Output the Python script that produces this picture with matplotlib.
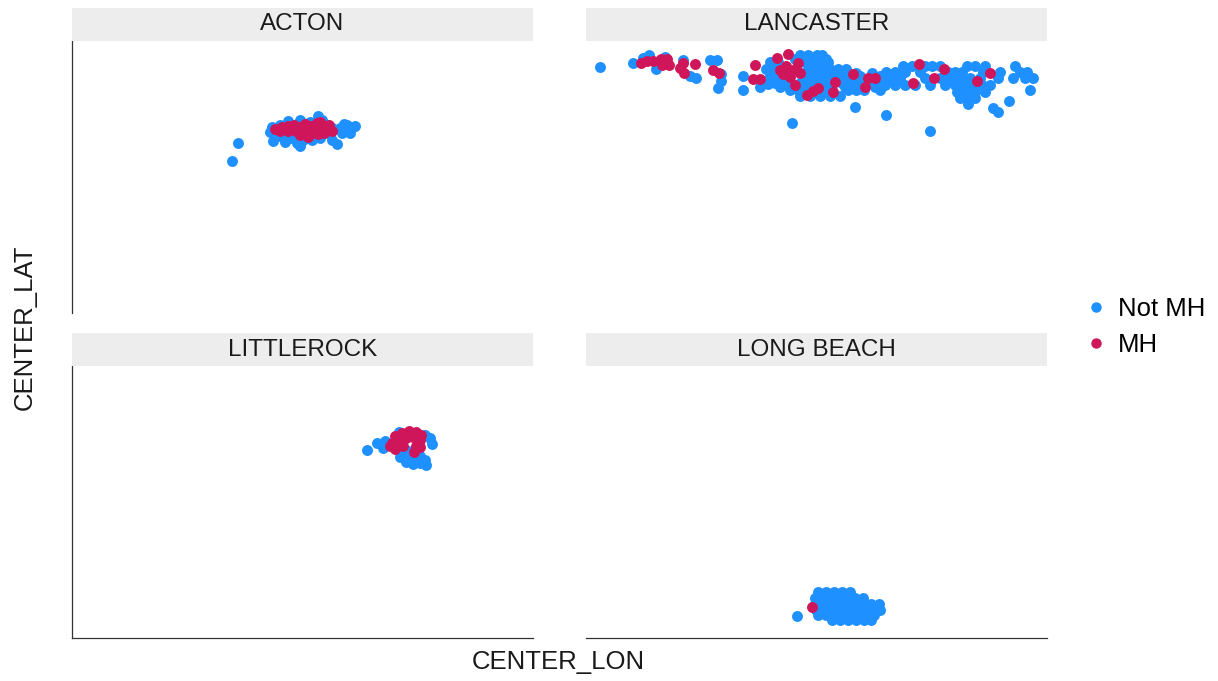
import matplotlib
matplotlib.use("Agg")
import matplotlib.pyplot as plt
from matplotlib.lines import Line2D
from matplotlib.patches import Rectangle

plt.rcParams["font.family"] = ["Liberation Sans", "DejaVu Sans"]

# ---- data: parcel centroids by town, split by mobile-home status ----
towns = ["ACTON", "LANCASTER", "LITTLEROCK", "LONG BEACH"]
groups = ["Not MH", "MH"]
colors = {"Not MH": "#1E90FF", "MH": "#D0165A"}

acton_not_lon = [-118.340, -118.334, -118.299, -118.287, -118.282, -118.275, -118.272, -118.269,
                 -118.277, -118.292, -118.296, -118.284, -118.272, -118.254, -118.262, -118.247,
                 -118.240, -118.232, -118.225, -118.219, -118.222, -118.230, -118.235, -118.240,
                 -118.252, -118.244, -118.260, -118.266, -118.285, -118.292, -118.276, -118.254,
                 -118.226, -118.217, -118.228, -118.300, -118.302, -118.288, -118.250, -118.257]
acton_not_lat = [34.680, 34.698, 34.700, 34.699, 34.703, 34.698, 34.695, 34.701,
                 34.713, 34.716, 34.711, 34.720, 34.721, 34.725, 34.719, 34.717,
                 34.713, 34.713, 34.716, 34.714, 34.708, 34.708, 34.697, 34.701,
                 34.703, 34.708, 34.701, 34.706, 34.708, 34.705, 34.708, 34.711,
                 34.711, 34.715, 34.717, 34.714, 34.709, 34.713, 34.721, 34.713]
acton_mh_lon = [-118.297, -118.290, -118.284, -118.278, -118.272, -118.267, -118.261, -118.255,
                -118.250, -118.245, -118.240, -118.267, -118.276, -118.284, -118.292, -118.260,
                -118.254, -118.272, -118.264, -118.248, -118.258, -118.280, -118.252, -118.243]
acton_mh_lat = [34.712, 34.714, 34.715, 34.716, 34.714, 34.717, 34.715, 34.718,
                34.714, 34.712, 34.710, 34.711, 34.710, 34.710, 34.710, 34.708,
                34.707, 34.706, 34.704, 34.708, 34.712, 34.713, 34.719, 34.716]

lancaster_not_lon = [
    -118.486, -118.453, -118.437, -118.443, -118.430, -118.421, -118.403, -118.396, -118.390,
    -118.376, -118.369, -118.365, -118.365, -118.368, -118.343, -118.343, -118.326, -118.318,
    -118.316,
    -118.286, -118.278, -118.269, -118.264,
    -118.291, -118.274, -118.260,
    -118.316, -118.308, -118.281, -118.274, -118.266, -118.258,
    -118.320, -118.313, -118.278, -118.271, -118.263, -118.256, -118.248, -118.240,
    -118.311, -118.296, -118.286, -118.246, -118.230, -118.214,
    -118.316, -118.308, -118.282, -118.274, -118.266, -118.258, -118.250, -118.242, -118.234,
    -118.226, -118.206, -118.196,
    -118.311, -118.303, -118.296, -118.286, -118.278, -118.270, -118.260, -118.244, -118.236,
    -118.228, -118.220, -118.210, -118.200, -118.190,
    -118.306, -118.291, -118.274, -118.256, -118.241, -118.226, -118.211,
    -118.296, -118.288, -118.280, -118.272, -118.262, -118.254, -118.238, -118.230, -118.222,
    -118.206,
    -118.286, -118.276, -118.266, -118.256, -118.246,
    -118.183, -118.174, -118.161, -118.154, -118.146, -118.119, -118.111, -118.101, -118.071,
    -118.200, -118.191, -118.181, -118.166, -118.138, -118.131, -118.124, -118.103, -118.086,
    -118.066, -118.059,
    -118.204, -118.196, -118.186, -118.161, -118.146, -118.136, -118.126, -118.116, -118.106,
    -118.088, -118.073, -118.061, -118.053,
    -118.201, -118.191, -118.181, -118.171, -118.156, -118.141, -118.131, -118.123, -118.114,
    -118.104, -118.096,
    -118.129, -118.121, -118.111, -118.101,
    -118.126, -118.118, -118.111,
    -118.118,
    -118.093, -118.088, -118.077, -118.056, -118.200, -118.156, -118.294, -118.231]
lancaster_not_lat = [
    34.774, 34.778, 34.786, 34.783, 34.772, 34.784, 34.781, 34.765, 34.763,
    34.781, 34.781, 34.767, 34.760, 34.753, 34.765, 34.751, 34.754, 34.757,
    34.771,
    34.786, 34.786, 34.786, 34.786,
    34.782, 34.782, 34.782,
    34.779, 34.779, 34.779, 34.779, 34.779, 34.779,
    34.772, 34.772, 34.772, 34.772, 34.772, 34.772, 34.772, 34.772,
    34.768, 34.768, 34.768, 34.768, 34.768, 34.768,
    34.765, 34.765, 34.765, 34.765, 34.765, 34.765, 34.765, 34.765, 34.765,
    34.765, 34.765, 34.765,
    34.758, 34.758, 34.758, 34.758, 34.758, 34.758, 34.758, 34.758, 34.758,
    34.758, 34.758, 34.758, 34.758, 34.758,
    34.754, 34.754, 34.754, 34.754, 34.754, 34.754, 34.754,
    34.751, 34.751, 34.751, 34.751, 34.751, 34.751, 34.751, 34.751, 34.751,
    34.751,
    34.745, 34.745, 34.745, 34.745, 34.745,
    34.775, 34.775, 34.775, 34.775, 34.775, 34.775, 34.775, 34.775, 34.775,
    34.769, 34.769, 34.769, 34.769, 34.769, 34.769, 34.769, 34.769, 34.769,
    34.769, 34.769,
    34.763, 34.763, 34.763, 34.763, 34.763, 34.763, 34.763, 34.763, 34.763,
    34.763, 34.763, 34.763, 34.763,
    34.756, 34.756, 34.756, 34.756, 34.756, 34.756, 34.756, 34.756, 34.756,
    34.756, 34.756,
    34.749, 34.749, 34.749, 34.749,
    34.743, 34.743, 34.743,
    34.737,
    34.733, 34.729, 34.740, 34.751, 34.726, 34.710, 34.718, 34.734]
lancaster_mh_lon = [-118.445, -118.439, -118.433, -118.425, -118.419, -118.424, -118.417, -118.406,
                    -118.402, -118.403, -118.391, -118.373, -118.367, -118.331, -118.333, -118.326,
                    -118.309, -118.298, -118.306, -118.300, -118.293, -118.288, -118.286, -118.296,
                    -118.303, -118.291, -118.279, -118.273, -118.268, -118.251, -118.253, -118.233,
                    -118.221, -118.218, -118.211, -118.167, -118.142, -118.152, -118.173, -118.109,
                    -118.096]
lancaster_mh_lat = [34.778, 34.780, 34.780, 34.782, 34.782, 34.776, 34.776, 34.773,
                    34.768, 34.778, 34.777, 34.771, 34.768, 34.776, 34.762, 34.762,
                    34.783, 34.787, 34.771, 34.775, 34.771, 34.778, 34.768, 34.764,
                    34.767, 34.756, 34.746, 34.750, 34.753, 34.759, 34.749, 34.767,
                    34.754, 34.763, 34.763, 34.777, 34.772, 34.763, 34.758, 34.760,
                    34.768]

littlerock_not_lon = [-118.205, -118.195, -118.187, -118.189, -118.173, -118.142, -118.140, -118.147,
                      -118.172, -118.166, -118.159, -118.152, -118.147, -118.168, -118.160, -118.152,
                      -118.146, -118.164, -118.172]
littlerock_not_lat = [34.716, 34.723, 34.725, 34.718, 34.734, 34.728, 34.722, 34.731,
                      34.709, 34.704, 34.702, 34.703, 34.706, 34.711, 34.708, 34.710,
                      34.701, 34.715, 34.714]
littlerock_mh_lon = [-118.177, -118.170, -118.163, -118.156, -118.151, -118.180, -118.173, -118.166,
                     -118.159, -118.152, -118.177, -118.169, -118.156, -118.152, -118.158, -118.182]
littlerock_mh_lat = [34.730, 34.733, 34.735, 34.734, 34.731, 34.723, 34.726, 34.728,
                     34.729, 34.726, 34.717, 34.720, 34.720, 34.719, 34.714, 34.720]

longbeach_not_lon = [-118.268, -118.260, -118.252, -118.244, -118.236,
                     -118.271, -118.263, -118.255, -118.247, -118.239, -118.231, -118.223,
                     -118.271, -118.263, -118.255, -118.247, -118.239, -118.231, -118.223,
                     -118.215, -118.207,
                     -118.270, -118.262, -118.254, -118.246, -118.238, -118.230, -118.222,
                     -118.214, -118.206,
                     -118.268, -118.260, -118.252, -118.244, -118.236, -118.228, -118.220,
                     -118.212,
                     -118.254, -118.246, -118.238, -118.230, -118.222, -118.215,
                     -118.289]
longbeach_not_lat = [34.574, 34.574, 34.574, 34.574, 34.574,
                     34.568, 34.568, 34.568, 34.568, 34.568, 34.568, 34.568,
                     34.562, 34.562, 34.562, 34.562, 34.562, 34.562, 34.562,
                     34.562, 34.562,
                     34.556, 34.556, 34.556, 34.556, 34.556, 34.556, 34.556,
                     34.556, 34.556,
                     34.551, 34.551, 34.551, 34.551, 34.551, 34.551, 34.551,
                     34.551,
                     34.546, 34.546, 34.546, 34.546, 34.546, 34.546,
                     34.550]
longbeach_mh_lon = [-118.274]
longbeach_mh_lat = [34.559]

points = {
    "ACTON": {"Not MH": (acton_not_lon, acton_not_lat), "MH": (acton_mh_lon, acton_mh_lat)},
    "LANCASTER": {"Not MH": (lancaster_not_lon, lancaster_not_lat),
                  "MH": (lancaster_mh_lon, lancaster_mh_lat)},
    "LITTLEROCK": {"Not MH": (littlerock_not_lon, littlerock_not_lat),
                   "MH": (littlerock_mh_lon, littlerock_mh_lat)},
    "LONG BEACH": {"Not MH": (longbeach_not_lon, longbeach_not_lat),
                   "MH": (longbeach_mh_lon, longbeach_mh_lat)},
}

# ---- layout (shared scales, 2 x 2 facets) ----
W, H = 1218, 681
fig = plt.figure(figsize=(W / 100, H / 100), dpi=100)

col_x = [72, 586]
row_y = [41, 366]
pw, ph, strip_h = 461, 272, 33
xlim = (-118.500, -118.039)
ylim = (34.528, 34.800)

for i, town in enumerate(towns):
    r, c = divmod(i, 2)
    x0, y0 = col_x[c], row_y[r]
    ax = fig.add_axes([x0 / W, (H - y0 - ph) / H, pw / W, ph / H])
    for g in groups:
        lon, lat = points[town][g]
        ax.scatter(lon, lat, s=62, color=colors[g], linewidths=0,
                   zorder=2 if g == "Not MH" else 3)
    ax.set_xlim(*xlim)
    ax.set_ylim(*ylim)
    ax.set_xticks([])
    ax.set_yticks([])
    for side in ("top", "right"):
        ax.spines[side].set_visible(False)
    ax.spines["left"].set_visible(c == 0)
    ax.spines["bottom"].set_visible(r == 1)
    for side in ("left", "bottom"):
        ax.spines[side].set_color("#333333")
        ax.spines[side].set_linewidth(0.9)
    ax.patch.set_alpha(0)

    # facet strip
    sx, sy = x0 / W, (H - y0) / H
    fig.patches.append(Rectangle((sx, sy), pw / W, strip_h / H, transform=fig.transFigure,
                                 facecolor="#EDEDED", edgecolor="none"))
    fig.text(sx + pw / W / 2, sy + strip_h / H / 2, town, ha="center", va="center",
             fontsize=17.5, color="#1A1A1A")

fig.text(558 / W, 1 - 662 / H, "CENTER_LON", ha="center", va="center", fontsize=18.5,
         color="#1A1A1A")
fig.text(25 / W, 1 - 327 / H, "CENTER_LAT", ha="center", va="center", rotation=90,
         fontsize=18.5, color="#1A1A1A")

handles = [Line2D([], [], linestyle="none", marker="o", markersize=7.5,
                  markerfacecolor=colors[g], markeredgewidth=0) for g in groups]
fig.legend(handles, groups, loc="center left", bbox_to_anchor=(1068 / W, 1 - 327 / H),
           frameon=False, fontsize=18.5, handletextpad=0.25, labelspacing=0.45,
           handlelength=1.2, borderpad=0)

fig.savefig("out.png", dpi=100, facecolor="white")
